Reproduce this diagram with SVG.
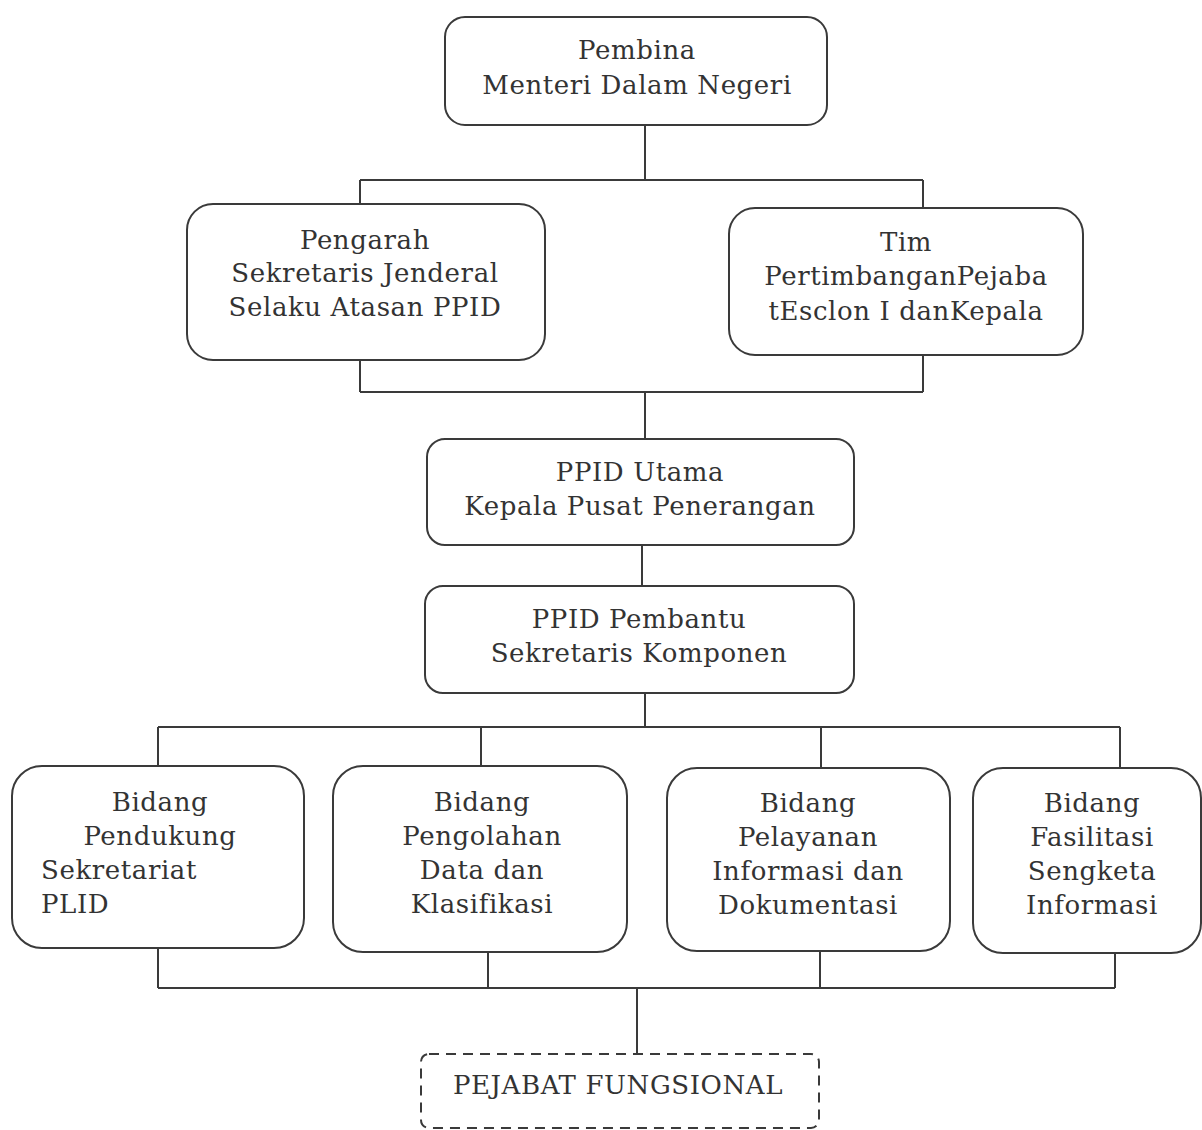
<svg xmlns="http://www.w3.org/2000/svg" width="1202" height="1130" viewBox="0 0 1202 1130">
<style>
.box{fill:#fff;stroke:#3a3a3a;stroke-width:2}
.dash{fill:#fff;stroke:#3a3a3a;stroke-width:2;stroke-dasharray:10 7}
.ln{fill:none;stroke:#3a3a3a;stroke-width:2}
text{font-family:"DejaVu Serif","Liberation Serif",serif;font-size:26px;letter-spacing:0.6px;fill:#333}
.c{text-anchor:middle}
</style>
<rect width="1202" height="1130" fill="#fff"/>
<g id="connectors">
<path class="ln" d="M645 125V180M360 180H923M360 180V204M923 180V208"/>
<path class="ln" d="M360 360V392M923 355V392M360 392H923M645 392V439"/>
<path class="ln" d="M642 545V586"/>
<path class="ln" d="M645 693V727M158 727H1120M158 727V766M481 727V766M821 727V768M1120 727V768"/>
<path class="ln" d="M158 948V988M488 952V988M820 951V988M1115 953V988M158 988H1115M637 988V1054"/>
</g>
<g id="pembina">
<rect class="box" x="445" y="17" width="382" height="108" rx="20"/>
<text class="c" x="637" y="59">Pembina</text>
<text class="c" x="637" y="94">Menteri Dalam Negeri</text>
</g>
<g id="pengarah">
<rect class="box" x="187" y="204" width="358" height="156" rx="26"/>
<text class="c" x="365" y="249">Pengarah</text>
<text class="c" x="365" y="282">Sekretaris Jenderal</text>
<text class="c" x="365" y="316">Selaku Atasan PPID</text>
</g>
<g id="tim">
<rect class="box" x="729" y="208" width="354" height="147" rx="26"/>
<text class="c" x="906" y="251">Tim</text>
<text class="c" x="906" y="285">PertimbanganPejaba</text>
<text class="c" x="906" y="320">tEsclon I danKepala</text>
</g>
<g id="ppid-utama">
<rect class="box" x="427" y="439" width="427" height="106" rx="18"/>
<text class="c" x="640" y="481">PPID Utama</text>
<text class="c" x="640" y="515">Kepala Pusat Penerangan</text>
</g>
<g id="ppid-pembantu">
<rect class="box" x="425" y="586" width="429" height="107" rx="18"/>
<text class="c" x="639" y="628">PPID Pembantu</text>
<text class="c" x="639" y="662">Sekretaris Komponen</text>
</g>
<g id="bidang-pendukung">
<rect class="box" x="12" y="766" width="292" height="182" rx="30"/>
<text class="c" x="160" y="811">Bidang</text>
<text class="c" x="160" y="845">Pendukung</text>
<text x="41" y="879">Sekretariat</text>
<text x="41" y="913">PLID</text>
</g>
<g id="bidang-pengolahan">
<rect class="box" x="333" y="766" width="294" height="186" rx="30"/>
<text class="c" x="482" y="811">Bidang</text>
<text class="c" x="482" y="845">Pengolahan</text>
<text class="c" x="482" y="879">Data dan</text>
<text class="c" x="482" y="913">Klasifikasi</text>
</g>
<g id="bidang-pelayanan">
<rect class="box" x="667" y="768" width="283" height="183" rx="30"/>
<text class="c" x="808" y="812">Bidang</text>
<text class="c" x="808" y="846">Pelayanan</text>
<text class="c" x="808" y="880">Informasi dan</text>
<text class="c" x="808" y="914">Dokumentasi</text>
</g>
<g id="bidang-fasilitasi">
<rect class="box" x="973" y="768" width="228" height="185" rx="30"/>
<text class="c" x="1092" y="812">Bidang</text>
<text class="c" x="1092" y="846">Fasilitasi</text>
<text class="c" x="1092" y="880">Sengketa</text>
<text class="c" x="1092" y="914">Informasi</text>
</g>
<g id="pejabat-fungsional">
<rect class="dash" x="421" y="1054" width="398" height="74" rx="8"/>
<text class="c" x="618" y="1094">PEJABAT FUNGSIONAL</text>
</g>
</svg>
